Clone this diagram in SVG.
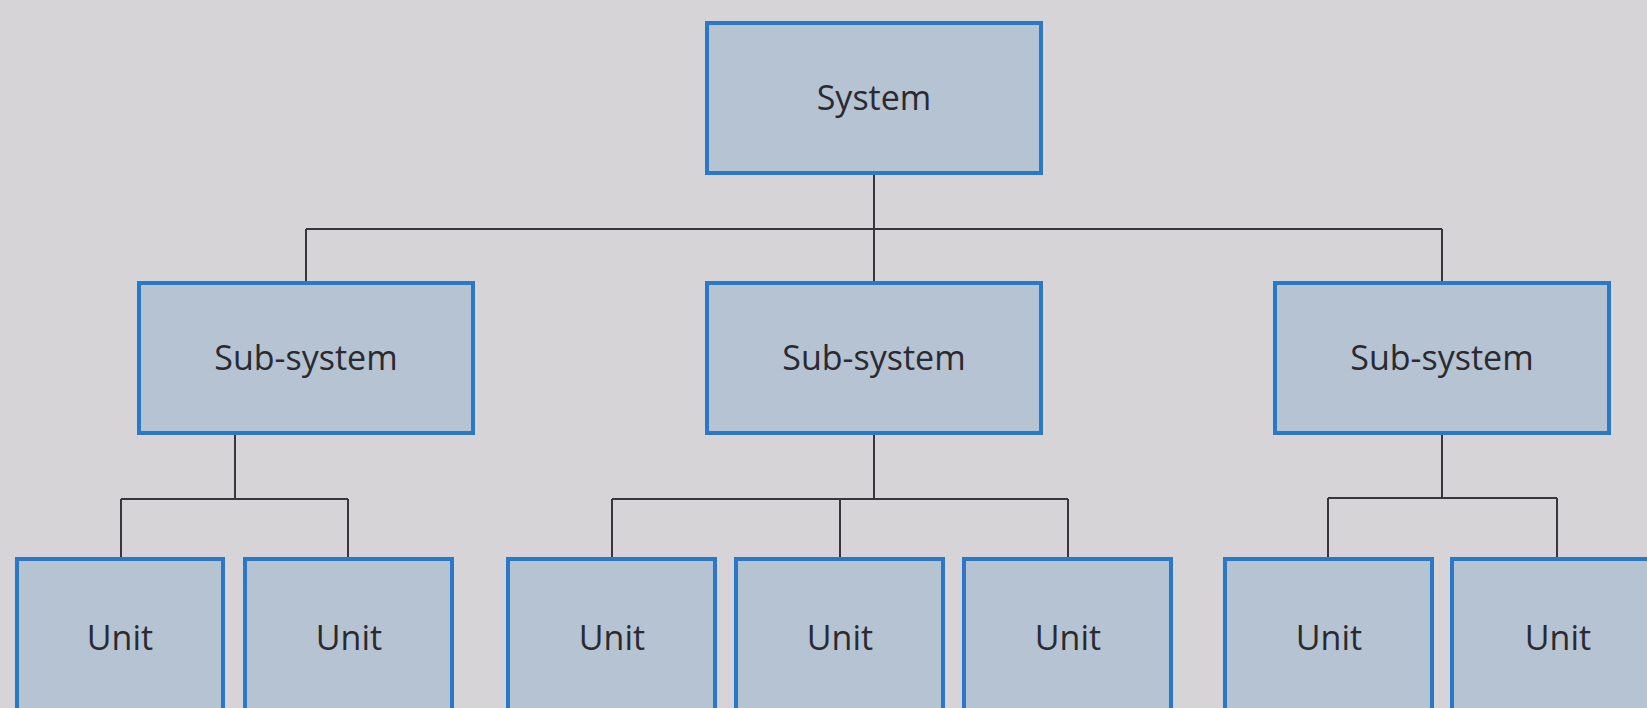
<svg xmlns="http://www.w3.org/2000/svg" width="1647" height="708" viewBox="0 0 1647 708">
  <style>
    .box { fill: #b5c3d3; stroke: #2b78c6; stroke-width: 4; }
    .lbl { font-family: "Open Sans", "Liberation Sans", sans-serif; font-size: 34px; fill: #2a2a30; text-anchor: middle; }
    .wire { fill: none; stroke: #36363c; stroke-width: 2; }
  </style>
  <rect x="0" y="0" width="1647" height="708" fill="#d6d4d6"/>

  <!-- hierarchy connectors -->
  <g id="connectors">
    <path class="wire" d="M874 175 V283 M306 229 H1442 M306 229 V283 M1442 229 V283"/>
    <path class="wire" d="M235 435 V499 M121 499 H348 M121 499 V559 M348 499 V559"/>
    <path class="wire" d="M874 435 V499 M612 499 H1068 M612 499 V559 M840 499 V559 M1068 499 V559"/>
    <path class="wire" d="M1442 435 V498 M1328 498 H1557 M1328 498 V559 M1557 498 V559"/>
  </g>

  <g id="system">
    <rect class="box" x="707" y="23" width="334" height="150"/>
    <text class="lbl" x="874" y="110">System</text>
  </g>

  <g id="subsystem-1">
    <rect class="box" x="139" y="283" width="334" height="150"/>
    <text class="lbl" x="306" y="370">Sub-system</text>
  </g>
  <g id="subsystem-2">
    <rect class="box" x="707" y="283" width="334" height="150"/>
    <text class="lbl" x="874" y="370">Sub-system</text>
  </g>
  <g id="subsystem-3">
    <rect class="box" x="1275" y="283" width="334" height="150"/>
    <text class="lbl" x="1442" y="370">Sub-system</text>
  </g>

  <g id="unit-1">
    <rect class="box" x="17" y="559" width="206" height="170"/>
    <text class="lbl" x="120" y="650">Unit</text>
  </g>
  <g id="unit-2">
    <rect class="box" x="245" y="559" width="207" height="170"/>
    <text class="lbl" x="349" y="650">Unit</text>
  </g>
  <g id="unit-3">
    <rect class="box" x="508" y="559" width="207" height="170"/>
    <text class="lbl" x="612" y="650">Unit</text>
  </g>
  <g id="unit-4">
    <rect class="box" x="736" y="559" width="207" height="170"/>
    <text class="lbl" x="840" y="650">Unit</text>
  </g>
  <g id="unit-5">
    <rect class="box" x="964" y="559" width="207" height="170"/>
    <text class="lbl" x="1068" y="650">Unit</text>
  </g>
  <g id="unit-6">
    <rect class="box" x="1225" y="559" width="207" height="170"/>
    <text class="lbl" x="1329" y="650">Unit</text>
  </g>
  <g id="unit-7">
    <rect class="box" x="1452" y="559" width="207" height="170"/>
    <text class="lbl" x="1558" y="650">Unit</text>
  </g>
</svg>
